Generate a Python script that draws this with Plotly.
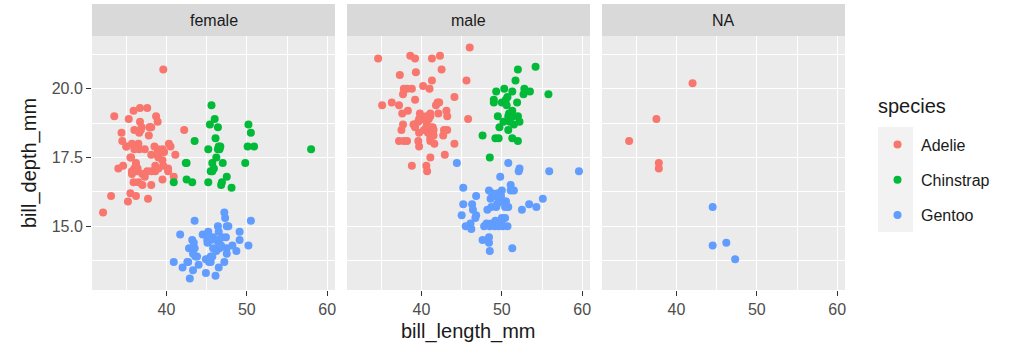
import plotly.graph_objects as go

# ---------------- data (bill_length_mm, bill_depth_mm, sex) ----------------
adelie_len = [39.1, 39.5, 40.3, 36.7, 39.3, 38.9, 39.2, 34.1, 42.0, 37.8, 37.8, 41.1, 38.6, 34.6, 36.6, 38.7, 42.5, 34.4, 46.0,
              37.8, 37.7, 35.9, 38.2, 38.8, 35.3, 40.6, 40.5, 37.9, 40.5,
              39.5, 37.2, 39.5, 40.9, 36.4, 39.2, 38.8, 42.2, 37.6, 39.8, 36.5, 40.8, 36.0, 44.1, 37.0, 39.6, 41.1, 37.5, 36.0, 42.3,
              39.6, 40.1, 35.0, 42.0, 34.5, 41.4, 39.0, 40.6, 36.5, 37.6, 35.7, 41.3, 37.6, 41.1, 36.4, 41.6, 35.5, 41.1,
              35.9, 41.8, 33.5, 39.7, 39.6, 45.8, 35.5, 42.8, 40.9, 37.2, 36.2, 42.1, 34.6, 42.9, 36.7, 35.1,
              37.3, 41.3, 36.3, 36.9, 38.3, 38.9, 35.7, 41.1, 34.0, 39.6, 36.2, 40.8, 38.1, 40.3, 33.1, 43.2,
              35.0, 41.0, 37.7, 37.8, 37.9, 39.7, 38.6, 38.2, 38.1, 43.2, 38.1, 45.6, 39.7, 42.2, 39.6, 42.7,
              38.6, 37.3, 35.7, 41.1, 36.2, 37.7, 40.2, 41.4, 35.2, 40.6, 38.8, 41.5, 39.0, 44.1, 38.5, 43.1,
              36.8, 37.5, 38.1, 41.1, 35.6, 40.2, 37.0, 39.7, 40.2, 40.6, 32.1, 40.7, 37.3, 39.0, 39.2, 36.6, 36.0, 37.8, 36.0, 41.5]
adelie_dep = [18.7, 17.4, 18.0, 19.3, 20.6, 17.8, 19.6, 18.1, 20.2, 17.1, 17.3, 17.6, 21.2, 21.1, 17.8, 19.0, 20.7, 18.4, 21.5,
              18.3, 18.7, 19.2, 18.1, 17.2, 18.9, 18.6, 17.9, 18.6, 18.9,
              16.7, 18.1, 17.8, 18.9, 17.0, 21.1, 20.0, 18.5, 19.3, 19.1, 18.0, 18.4, 18.5, 19.7, 16.9, 18.8, 19.0, 18.9, 17.9, 21.2,
              17.7, 18.9, 17.9, 19.5, 18.1, 18.6, 17.5, 18.8, 16.6, 19.1, 16.9, 21.1, 17.0, 18.2, 17.1, 18.0, 16.2, 19.1,
              16.6, 19.4, 19.0, 18.4, 17.2, 18.9, 17.5, 18.5, 16.8, 19.4, 16.1, 19.1, 17.2, 17.6, 18.8, 19.4,
              17.8, 20.3, 19.5, 18.6, 19.2, 18.8, 18.0, 18.1, 17.1, 18.1, 17.3, 18.9, 18.6, 18.5, 16.1, 18.5,
              17.9, 20.0, 16.0, 20.0, 18.6, 18.9, 17.2, 20.0, 17.0, 19.0, 16.5, 20.3, 17.7, 19.5, 20.7, 18.3,
              17.0, 20.5, 17.0, 18.6, 17.2, 19.8, 17.0, 18.5, 15.9, 19.0, 17.6, 18.3, 17.1, 18.0, 17.9, 19.2,
              18.5, 18.5, 17.6, 17.5, 17.5, 20.1, 16.5, 17.9, 17.1, 17.2, 15.5, 17.0, 16.8, 18.7, 18.6, 18.4, 17.8, 18.1, 17.1, 18.5]
adelie_sex = ["male", "female", "female", "female", "male", "female", "male", "NA", "NA", "NA", "NA", "female", "male", "male", "female", "female", "male", "female", "male",
              "female", "male", "female", "male", "male", "female", "male", "female", "female", "male",
              "female", "male", "female", "male", "female", "male", "male", "female", "female", "male", "female", "male", "female", "male", "female", "male", "male", "NA", "female", "male",
              "female", "male", "female", "male", "female", "male", "female", "male", "female", "male", "female", "male", "female", "male", "female", "male", "female", "male",
              "female", "male", "female", "male", "female", "male", "female", "male", "female", "male", "female", "male", "female", "male", "female", "male",
              "female", "male", "male", "female", "male", "female", "female", "male", "female", "male", "female", "male", "female", "male", "female", "male",
              "female", "male", "female", "male", "female", "male", "female", "male", "female", "male", "female", "male", "female", "male", "female", "male",
              "female", "male", "female", "male", "female", "male", "female", "male", "female", "male", "female", "male", "female", "male", "female", "male",
              "female", "male", "female", "male", "female", "male", "female", "male", "female", "male", "female", "male", "female", "male", "male", "female", "female", "male", "female", "male"]

gentoo_len = [46.1, 50.0, 48.7, 50.0, 47.6, 46.5, 45.4, 46.7, 43.3, 46.8, 40.9, 49.0, 45.5, 48.4, 45.8, 49.3, 42.0, 49.2, 46.2, 48.7,
              50.2, 45.1, 46.5, 46.3, 42.9, 46.1, 44.5, 47.8, 48.2, 50.0, 47.3, 42.8, 45.1, 59.6,
              49.1, 48.4, 42.6, 44.4, 44.0, 48.7, 42.7, 49.6, 45.3, 49.6, 50.5, 43.6, 45.5, 50.5, 44.9, 45.2, 46.6, 48.5, 45.1, 50.1,
              46.5, 45.0, 43.8, 45.5, 43.2, 50.4, 45.3, 46.2, 45.7, 54.3, 45.8, 49.8, 46.2, 49.5, 43.5, 50.7, 47.7, 46.4, 48.2, 46.5,
              46.4, 48.6, 47.5, 51.1, 45.2, 45.2,
              49.1, 52.5, 47.4, 50.0, 44.9, 50.8, 43.4, 51.3, 47.5, 52.1, 47.5, 52.2, 45.5, 49.5, 44.5, 50.8, 49.4, 46.9, 48.4, 51.1,
              48.5, 55.9, 47.2, 49.1, 47.3, 46.8, 41.7, 53.4, 43.3, 48.1, 50.5, 49.8, 43.5, 51.5, 46.2, 55.1, 44.5, 48.8, 47.2,
              46.8, 50.4, 45.2, 49.9]
gentoo_dep = [13.2, 16.3, 14.1, 15.2, 14.5, 13.5, 14.6, 15.3, 13.4, 15.4, 13.7, 16.1, 13.7, 14.6, 14.6, 15.7, 13.5, 15.2, 14.5, 15.1,
              14.3, 14.5, 14.5, 15.8, 13.1, 15.1, 14.3, 15.0, 14.3, 15.3, 15.3, 14.2, 14.5, 17.0,
              14.8, 16.3, 13.7, 17.3, 13.6, 15.7, 13.7, 16.0, 13.7, 15.0, 15.9, 13.9, 13.9, 15.9, 13.3, 15.8, 14.2, 14.1, 14.4, 15.0,
              14.4, 15.4, 13.9, 15.0, 14.5, 15.3, 13.8, 14.9, 13.9, 15.7, 14.2, 16.8, 14.4, 16.2, 14.2, 15.0, 15.0, 15.6, 15.6, 14.8,
              15.0, 16.0, 14.2, 16.3, 13.8, 16.4,
              14.5, 15.6, 14.6, 15.9, 13.8, 17.3, 14.4, 14.2, 14.0, 17.0, 15.0, 17.1, 14.5, 16.1, 14.7, 15.7, 15.8, 14.6, 14.4, 16.5,
              15.0, 17.0, 15.5, 15.0, 13.8, 16.1, 14.7, 15.8, 14.0, 15.1, 15.2, 15.9, 15.2, 16.3, 14.1, 16.0, 15.7, 16.2, 13.7,
              14.3, 15.7, 14.8, 16.1]
gentoo_sex = ["female", "male", "female", "male", "male", "female", "female", "male", "female", "male", "female", "male", "female", "male", "female", "male", "female", "male", "female", "male",
              "female", "female", "female", "male", "female", "male", "NA", "male", "female", "male", "female", "female", "female", "male",
              "female", "male", "female", "male", "female", "male", "female", "male", "female", "male", "male", "female", "female", "male", "female", "male", "female", "male", "female", "male",
              "female", "male", "female", "male", "female", "male", "female", "male", "female", "male", "female", "male", "NA", "male", "female", "male", "female", "male", "male", "female",
              "female", "male", "female", "male", "female", "male",
              "female", "male", "female", "male", "female", "male", "female", "male", "female", "male", "female", "male", "female", "male", "female", "male", "male", "female", "male", "male",
              "male", "male", "female", "male", "NA", "male", "female", "male", "female", "male", "female", "male", "female", "male", "female", "male", "NA", "male", "female",
              "female", "male", "female", "male"]

chinstrap_len = [46.5, 50.0, 51.3, 45.4, 52.7, 45.2, 46.1, 51.3, 46.0, 51.3, 46.6, 51.7, 47.0, 52.0, 45.9, 50.5, 50.3, 58.0, 46.4, 49.2,
                 42.4, 48.5, 43.2, 50.6, 46.7, 52.0,
                 50.5, 49.5, 46.4, 52.8, 40.9, 54.2, 42.5, 51.0, 49.7, 47.5, 47.6, 52.0, 46.9, 53.5, 49.0, 46.2, 50.9, 45.5,
                 50.9, 50.8, 50.1, 49.0, 51.5, 49.8, 48.1, 51.4, 45.7, 50.7, 42.5, 52.2, 45.2, 49.3, 50.2, 45.6, 51.9, 46.8,
                 45.7, 55.8, 43.5, 49.6, 50.8, 50.2]
chinstrap_dep = [17.9, 19.5, 19.2, 18.7, 19.8, 17.8, 18.2, 18.2, 18.9, 19.9, 17.8, 20.3, 17.3, 18.1, 17.1, 19.6, 20.0, 17.8, 18.6, 18.2,
                 17.3, 17.5, 16.6, 19.4, 17.9, 19.0,
                 18.4, 19.0, 17.8, 20.0, 16.6, 20.8, 16.7, 18.8, 18.6, 16.8, 18.3, 20.7, 16.6, 19.9, 19.5, 17.5, 19.1, 17.0,
                 17.9, 18.5, 17.9, 19.6, 18.7, 17.3, 16.4, 19.0, 17.3, 19.7, 17.3, 18.8, 16.6, 19.9, 18.8, 19.4, 19.5, 16.5,
                 17.0, 19.8, 18.1, 18.2, 19.0, 18.7]
chinstrap_sex = ["female", "male", "male", "female", "male", "female", "female", "male", "female", "male", "female", "male", "female", "male", "female", "male", "male", "female", "female", "male",
                 "female", "male", "female", "male", "female", "male",
                 "female", "male", "female", "male", "female", "male", "female", "male", "male", "female", "male", "male", "female", "male", "male", "female", "male", "female",
                 "female", "male", "female", "male", "male", "female", "female", "male", "female", "male", "female", "male", "female", "male", "male", "female", "male", "female",
                 "female", "male", "female", "male", "male", "female"]

facets = ["female", "male", "NA"]
x_ticks = [40, 50, 60]
y_ticks = [15.0, 17.5, 20.0]
y_tick_labels = ["15.0", "17.5", "20.0"]

species = [
    ("Adelie", adelie_len, adelie_dep, adelie_sex, "#F8766D"),
    ("Gentoo", gentoo_len, gentoo_dep, gentoo_sex, "#619CFF"),
    ("Chinstrap", chinstrap_len, chinstrap_dep, chinstrap_sex, "#00BA38"),
]
legend_rank = {"Adelie": 1, "Chinstrap": 2, "Gentoo": 3}

# ---------------- layout geometry (pixels) ----------------
W, H = 1021, 348
panels_px = [(92, 335), (347, 590), (602, 845)]
top_px, bottom_px = 36, 290
strip_top_px = 4
FONT = "Liberation Sans, Arial, Helvetica"
SMALL = 16
BIG = 20

def px_x(p):
    return p / W

def px_y(p):
    return 1 - p / H

fig = go.Figure()
for i, facet in enumerate(facets):
    ax = "" if i == 0 else str(i + 1)
    for name, xs, ys, sx, col in species:
        px_ = [x for x, s in zip(xs, sx) if s == facet]
        py_ = [y for y, s in zip(ys, sx) if s == facet]
        fig.add_trace(go.Scatter(
            x=px_, y=py_, mode="markers", name=name,
            marker=dict(color=col, size=8, line=dict(width=0)),
            xaxis="x" + ax, yaxis="y" + ax,
            showlegend=(i == 0), legendgroup=name, legendrank=legend_rank[name],
            hoverinfo="skip",
        ))

axis_common = dict(
    range=[30.725, 60.975], tickvals=x_ticks, ticktext=[str(v) for v in x_ticks],
    showgrid=True, gridcolor="white", gridwidth=1.1, zeroline=False,
    ticks="outside", ticklen=5, tickwidth=1, tickcolor="#333333",
    tickfont=dict(family=FONT, size=SMALL, color="#4D4D4D"),
    minor=dict(tickvals=[35, 45, 55], showgrid=True, gridcolor="white", gridwidth=0.5, ticks=""),
    showline=False,
)
yaxis_common = dict(
    range=[12.68, 21.92], tickvals=y_ticks, ticktext=y_tick_labels,
    showgrid=True, gridcolor="white", gridwidth=1.1, zeroline=False,
    ticks="outside", ticklen=5, tickwidth=1, tickcolor="#333333",
    tickfont=dict(family=FONT, size=SMALL, color="#4D4D4D"),
    minor=dict(tickvals=[13.75, 16.25, 18.75, 21.25], showgrid=True, gridcolor="white", gridwidth=0.5, ticks=""),
    showline=False,
)

layout = dict(
    width=W, height=H, margin=dict(l=0, r=0, t=0, b=0),
    paper_bgcolor="white", plot_bgcolor="#EBEBEB",
    font=dict(family=FONT, color="#1A1A1A"),
    legend=dict(
        font=dict(family=FONT, size=SMALL, color="#1A1A1A"),
        x=px_x(874), xanchor="left", y=px_y(127.5), yanchor="top",
        tracegroupgap=11.5, bgcolor="rgba(0,0,0,0)", itemsizing="trace", itemwidth=37,
    ),
)
shapes = []
annotations = []
for i, (x0, x1) in enumerate(panels_px):
    ax = "" if i == 0 else str(i + 1)
    xa = dict(axis_common, domain=[px_x(x0), px_x(x1)], anchor="y" + ax)
    ya = dict(yaxis_common, domain=[px_y(bottom_px), px_y(top_px)], anchor="x" + ax)
    if i > 0:
        ya["showticklabels"] = False
        ya["ticks"] = ""
    layout["xaxis" + ax] = xa
    layout["yaxis" + ax] = ya
    shapes.append(dict(type="rect", xref="paper", yref="paper",
                       x0=px_x(x0), x1=px_x(x1), y0=px_y(top_px), y1=px_y(strip_top_px),
                       fillcolor="#D9D9D9", line=dict(width=0), layer="below"))
    annotations.append(dict(text=facets[i], xref="paper", yref="paper",
                            x=px_x((x0 + x1) / 2), y=px_y((top_px + strip_top_px) / 2),
                            showarrow=False, xanchor="center", yanchor="middle",
                            font=dict(family=FONT, size=SMALL, color="#1A1A1A")))

# legend key background and title
shapes.append(dict(type="rect", xref="paper", yref="paper",
                   x0=px_x(878), x1=px_x(913), y0=px_y(232), y1=px_y(127),
                   fillcolor="#F2F2F2", line=dict(width=0), layer="below"))
annotations.append(dict(text="species", xref="paper", yref="paper",
                        x=px_x(876), y=px_y(106), showarrow=False,
                        xanchor="left", yanchor="middle", font=dict(family=FONT, size=BIG, color="#1A1A1A")))

annotations.append(dict(text="bill_length_mm", xref="paper", yref="paper",
                        x=px_x(468.5), y=px_y(331), showarrow=False,
                        xanchor="center", yanchor="middle", font=dict(family=FONT, size=BIG, color="#1A1A1A")))
annotations.append(dict(text="bill_depth_mm", xref="paper", yref="paper",
                        x=px_x(29), y=px_y(163), showarrow=False, textangle=-90,
                        xanchor="center", yanchor="middle", font=dict(family=FONT, size=BIG, color="#1A1A1A")))

layout["shapes"] = shapes
layout["annotations"] = annotations
fig.update_layout(**layout)
fig.write_html("out.html", config={"displayModeBar": False},
               post_script="document.body.style.margin='0';document.body.style.padding='0';")
